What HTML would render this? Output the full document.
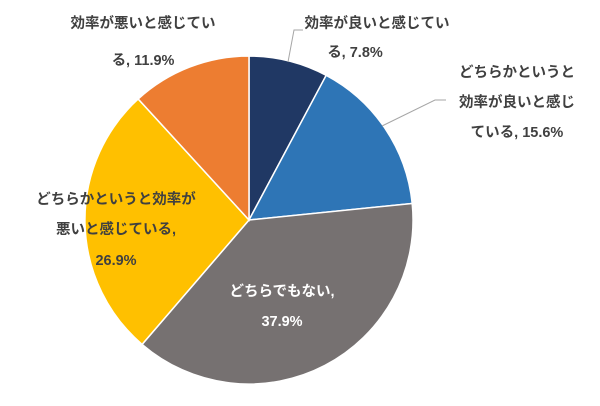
<!DOCTYPE html>
<html><head><meta charset="utf-8"><style>
html,body{margin:0;padding:0;background:#fff;}
svg text{font-family:"Liberation Sans","Noto Sans CJK JP",sans-serif;font-weight:bold;font-size:14.5px;fill:#404040;}
</style></head><body>
<svg width="600" height="401" viewBox="0 0 600 401" xmlns="http://www.w3.org/2000/svg">
<g stroke="#fff" stroke-width="1.5">
<path d="M249,220 L249,56 A164,164 0 0 1 326.2,75.3 Z" fill="#203864"/>
<path d="M249,220 L326.2,75.3 A164,164 0 0 1 412.2,203.5 Z" fill="#2E75B6"/>
<path d="M249,220 L412.2,203.5 A164,164 0 0 1 142.1,344.4 Z" fill="#767171"/>
<path d="M249,220 L142.1,344.4 A164,164 0 0 1 138.2,99.0 Z" fill="#FFC000"/>
<path d="M249,220 L138.2,99.0 A164,164 0 0 1 249,56 Z" fill="#ED7D31"/>
</g>
<g stroke="#a6a6a6" stroke-width="1" fill="none">
<polyline points="288,62 294,30 303,30"/>
<polyline points="382,126 435,100 446,100"/>
</g>
<text x="143" y="28" text-anchor="middle">効率が悪いと感じてい</text>
<text x="143" y="65" text-anchor="middle">る, 11.9%</text>
<text x="377" y="28" text-anchor="middle">効率が良いと感じてい</text>
<text x="355" y="57" text-anchor="middle">る, 7.8%</text>
<text x="517" y="77" text-anchor="middle">どちらかというと</text>
<text x="517" y="107" text-anchor="middle">効率が良いと感じ</text>
<text x="517" y="137" text-anchor="middle">ている, 15.6%</text>
<text x="116" y="204" text-anchor="middle">どちらかというと効率が</text>
<text x="116" y="234" text-anchor="middle">悪いと感じている,</text>
<text x="116" y="265" text-anchor="middle">26.9%</text>
<text x="282" y="296" text-anchor="middle" style="fill:#fff">どちらでもない,</text>
<text x="282" y="326" text-anchor="middle" style="fill:#fff">37.9%</text>
</svg>
</body></html>
